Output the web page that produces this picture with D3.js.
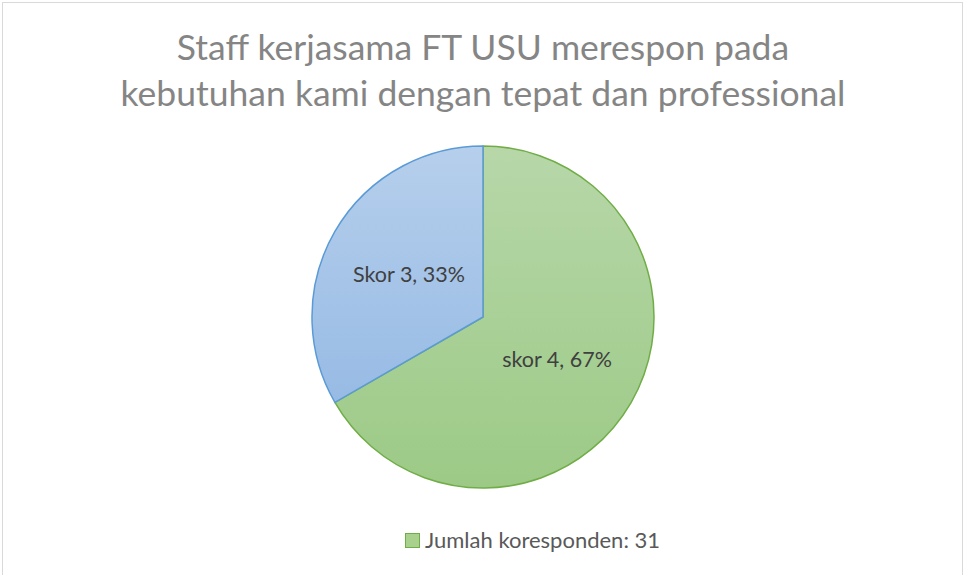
<!DOCTYPE html>
<html>
<head>
<meta charset="utf-8">
<script src="https://cdn.jsdelivr.net/npm/d3@7"></script>
<style>
  body { margin: 0; background: #fff; }
  svg { display: block; font-family: Lato, "Open Sans", sans-serif; }
</style>
</head>
<body>
<svg id="canvas" width="963" height="575"></svg>
<script>
// data
var titleLines = ['Staff kerjasama FT USU merespon pada', 'kebutuhan kami dengan tepat dan professional'];
var categories = ['skor 4', 'Skor 3'];
var values = [66.67, 33.33];
var seriesName = 'Jumlah koresponden: 31';

var canvas_width = 963, canvas_height = 575;
var svg = d3.select('#canvas');

// frame
svg.append('rect')
  .attr('x', 2.5).attr('y', 2.5)
  .attr('width', canvas_width - 3).attr('height', canvas_height + 10)
  .attr('fill', '#fff').attr('stroke', '#d9d9d9').attr('stroke-width', 1);

// title
var title = svg.append('g');
titleLines.forEach(function(t, i) {
  title.append('text')
    .attr('x', 483).attr('y', 60 + i * 46)
    .attr('text-anchor', 'middle')
    .attr('font-size', 35.5)
    .attr('fill', '#858585')
    .text(t);
});

// gradients
var defs = svg.append('defs');
var cx = 483, cy = 317, R = 171;
function grad(id, top, bottom) {
  var g = defs.append('linearGradient').attr('id', id)
    .attr('gradientUnits', 'userSpaceOnUse')
    .attr('x1', 0).attr('y1', -R).attr('x2', 0).attr('y2', R);
  g.append('stop').attr('offset', '0%').attr('stop-color', top);
  g.append('stop').attr('offset', '100%').attr('stop-color', bottom);
}
grad('gGreen', '#b7d7a9', '#9cca86');
grad('gBlue', '#b6cfec', '#8db4e2');
var fills = ['url(#gGreen)', 'url(#gBlue)'];
var strokes = ['#70ad47', '#5b9bd5'];

var pie = d3.pie().sort(null).value(function(d) { return d; });
var arcs = pie(values);
var arcGen = d3.arc().innerRadius(0).outerRadius(R);
var total = d3.sum(values);

var origin = svg.append('g').attr('transform', 'translate(' + cx + ',' + cy + ')');
origin.selectAll('path.slice').data(arcs).enter().append('path')
  .attr('class', 'slice')
  .attr('d', arcGen)
  .attr('fill', function(d, i) { return fills[i]; })
  .attr('stroke', function(d, i) { return strokes[i]; })
  .attr('stroke-width', 1.5)
  .attr('stroke-linejoin', 'round');

origin.selectAll('text.lbl').data(arcs).enter().append('text')
  .attr('class', 'lbl')
  .attr('transform', function(d) { return 'translate(' + arcGen.centroid(d) + ')'; })
  .attr('text-anchor', 'middle')
  .attr('dy', '0.35em')
  .attr('font-size', 21.5)
  .attr('fill', '#404040')
  .text(function(d, i) { return categories[i] + ', ' + Math.round(d.value / total * 100) + '%'; });

// legend
var legend = svg.append('g').attr('transform', 'translate(405,533)');
legend.append('rect')
  .attr('x', 0.5).attr('y', 0.5).attr('width', 14).attr('height', 14)
  .attr('fill', '#a9d18e').attr('stroke', '#70ad47').attr('stroke-width', 1);
legend.append('text')
  .attr('x', 20).attr('y', 15)
  .attr('font-size', 22)
  .attr('fill', '#595959')
  .text(seriesName);
</script>
</body>
</html>
